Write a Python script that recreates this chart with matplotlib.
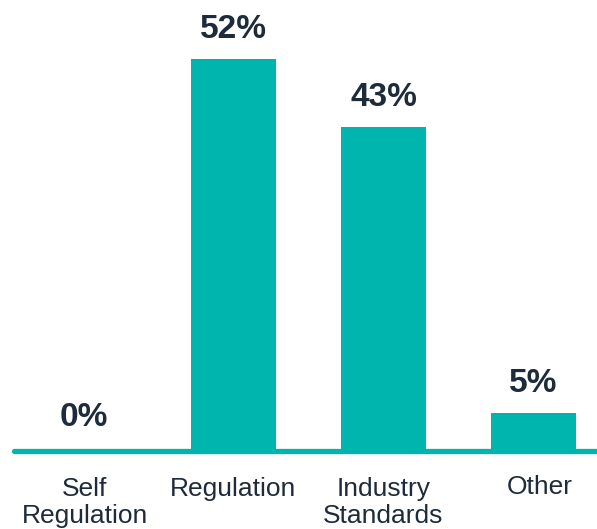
import numpy as np
import matplotlib.pyplot as plt

plt.rcParams['font.family'] = ['Liberation Sans', 'DejaVu Sans']

categories = ['Self\nRegulation', 'Regulation', 'Industry\nStandards', 'Other']
values = [0, 52, 43, 5]
value_labels = ['0%', '52%', '43%', '5%']

teal = '#00b5ad'
dark = '#1d2b3a'

fig = plt.figure(figsize=(5.97, 5.29), dpi=100)
ax = fig.add_axes([0, 78 / 529, 1, 1 - 78 / 529])

x = np.arange(len(categories))
ax.bar(x, values, width=0.567, color=teal, zorder=2)

# baseline
ax.plot([-0.46, 3.5], [0, 0], color=teal, linewidth=3.8, solid_capstyle='round', zorder=3, clip_on=False)

value_dy = [18, 15, 15, 15]
for xi, v, lab, dy in zip(x, values, value_labels, value_dy):
    ax.annotate(lab, (xi, v), xytext=(0, dy), textcoords='offset points',
                ha='center', va='baseline', fontsize=24, fontweight='bold', color=dark)

label_dx = [0.01, 0, 0, 0.045]
label_dy = [-19, -19, -19, -17]
for xi, lab, dx, dy in zip(x, categories, label_dx, label_dy):
    ax.annotate(lab, (xi + dx, 0), xytext=(0, dy), textcoords='offset points',
                ha='center', va='top', fontsize=19, color=dark, linespacing=1.12,
                annotation_clip=False)

ax.set_xlim(-83.5 / 150, (597 - 83.5) / 150)
ax.set_ylim(0, 451 / (392 / 52))
ax.axis('off')

fig.savefig('out.png', dpi=100)
